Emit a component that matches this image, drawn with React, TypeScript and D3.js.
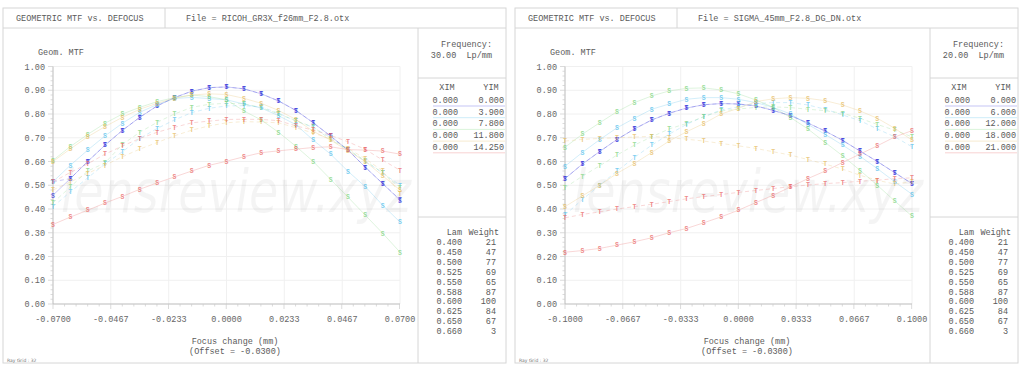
import React from 'react';
import * as d3 from 'd3';

// focus positions (mm)
const ricohFocus = [-0.070, -0.063, -0.056, -0.049, -0.042, -0.035, -0.028, -0.021, -0.014, -0.007, 0.0,
  0.007, 0.014, 0.021, 0.028, 0.035, 0.042, 0.049, 0.056, 0.063, 0.070];
const sigmaFocus = [-0.10, -0.09, -0.08, -0.07, -0.06, -0.05, -0.04, -0.03, -0.02, -0.01, 0.0,
  0.01, 0.02, 0.03, 0.04, 0.05, 0.06, 0.07, 0.08, 0.09, 0.10];

const ricohTicks = [-0.07, -0.0467, -0.0233, 0, 0.0233, 0.0467, 0.07];
const sigmaTicks = [-0.1, -0.0667, -0.0333, 0, 0.0333, 0.0667, 0.1];
const yTicks = [0, 0.1, 0.2, 0.3, 0.4, 0.5, 0.6, 0.7, 0.8, 0.9, 1.0];

// field colours: 0, 1, 2, 3, 4
const fieldColors = ['#3c3cdc', '#5cc2ec', '#84d684', '#e6bd66', '#ea6c6c'];

// RICOH GR3X — S and T per field
const ricohS = [
  [0.458, 0.528, 0.600, 0.669, 0.731, 0.786, 0.834, 0.869, 0.896, 0.911, 0.914, 0.906, 0.885, 0.855, 0.815, 0.763, 0.707, 0.648, 0.576, 0.507, 0.437],
  [0.515, 0.584, 0.648, 0.708, 0.761, 0.807, 0.840, 0.865, 0.870, 0.865, 0.860, 0.842, 0.825, 0.793, 0.755, 0.690, 0.631, 0.559, 0.494, 0.416, 0.345],
  [0.605, 0.663, 0.714, 0.761, 0.800, 0.828, 0.852, 0.869, 0.880, 0.873, 0.860, 0.813, 0.775, 0.723, 0.664, 0.600, 0.525, 0.450, 0.374, 0.298, 0.218],
  [0.600, 0.653, 0.704, 0.747, 0.786, 0.820, 0.845, 0.866, 0.880, 0.885, 0.882, 0.866, 0.845, 0.815, 0.777, 0.727, 0.690, 0.645, 0.600, 0.540, 0.480],
  [0.335, 0.366, 0.395, 0.425, 0.453, 0.483, 0.510, 0.535, 0.560, 0.584, 0.601, 0.620, 0.637, 0.645, 0.652, 0.659, 0.662, 0.650, 0.648, 0.644, 0.631],
];
const ricohT = [
  [0.515, 0.528, 0.600, 0.669, 0.731, 0.786, 0.834, 0.869, 0.896, 0.911, 0.914, 0.906, 0.885, 0.855, 0.815, 0.763, 0.707, 0.648, 0.576, 0.507, 0.440],
  [0.410, 0.472, 0.531, 0.590, 0.641, 0.697, 0.739, 0.775, 0.806, 0.824, 0.834, 0.835, 0.830, 0.803, 0.770, 0.744, 0.700, 0.650, 0.600, 0.552, 0.500],
  [0.426, 0.493, 0.560, 0.594, 0.672, 0.723, 0.765, 0.800, 0.828, 0.841, 0.845, 0.843, 0.827, 0.800, 0.772, 0.745, 0.692, 0.650, 0.604, 0.552, 0.490],
  [0.480, 0.514, 0.550, 0.584, 0.620, 0.652, 0.680, 0.708, 0.732, 0.750, 0.763, 0.768, 0.766, 0.763, 0.742, 0.720, 0.695, 0.655, 0.612, 0.560, 0.465],
  [0.514, 0.554, 0.590, 0.631, 0.665, 0.697, 0.723, 0.744, 0.763, 0.770, 0.777, 0.778, 0.777, 0.772, 0.750, 0.732, 0.710, 0.683, 0.651, 0.606, 0.563],
];

// SIGMA 45mm
const sigmaS = [
  [0.528, 0.589, 0.642, 0.693, 0.737, 0.775, 0.803, 0.825, 0.839, 0.844, 0.842, 0.834, 0.815, 0.793, 0.762, 0.728, 0.689, 0.644, 0.600, 0.553, 0.507],
  [0.580, 0.638, 0.692, 0.742, 0.782, 0.820, 0.842, 0.862, 0.869, 0.869, 0.862, 0.848, 0.828, 0.800, 0.756, 0.714, 0.669, 0.622, 0.570, 0.515, 0.462],
  [0.660, 0.715, 0.763, 0.810, 0.848, 0.876, 0.897, 0.908, 0.910, 0.901, 0.885, 0.859, 0.828, 0.785, 0.737, 0.680, 0.624, 0.563, 0.500, 0.434, 0.370],
  [0.410, 0.455, 0.500, 0.550, 0.592, 0.638, 0.686, 0.725, 0.760, 0.800, 0.824, 0.852, 0.864, 0.869, 0.866, 0.856, 0.838, 0.813, 0.782, 0.740, 0.690],
  [0.218, 0.225, 0.234, 0.248, 0.262, 0.279, 0.300, 0.318, 0.342, 0.367, 0.395, 0.427, 0.458, 0.493, 0.528, 0.560, 0.596, 0.631, 0.666, 0.703, 0.730],
];
const sigmaT = [
  [0.528, 0.589, 0.642, 0.693, 0.737, 0.775, 0.803, 0.825, 0.839, 0.844, 0.842, 0.834, 0.815, 0.793, 0.762, 0.728, 0.689, 0.644, 0.600, 0.553, 0.507],
  [0.375, 0.440, 0.500, 0.560, 0.617, 0.669, 0.715, 0.756, 0.789, 0.817, 0.830, 0.844, 0.848, 0.848, 0.838, 0.820, 0.796, 0.772, 0.737, 0.704, 0.662],
  [0.490, 0.538, 0.582, 0.627, 0.669, 0.704, 0.737, 0.760, 0.789, 0.813, 0.821, 0.828, 0.830, 0.827, 0.820, 0.814, 0.803, 0.782, 0.756, 0.732, 0.704],
  [0.686, 0.693, 0.697, 0.700, 0.703, 0.706, 0.700, 0.694, 0.686, 0.676, 0.666, 0.655, 0.641, 0.627, 0.608, 0.589, 0.568, 0.542, 0.521, 0.505, 0.515],
  [0.363, 0.377, 0.388, 0.400, 0.410, 0.420, 0.431, 0.443, 0.452, 0.461, 0.470, 0.478, 0.486, 0.494, 0.501, 0.507, 0.511, 0.517, 0.521, 0.528, 0.531],
];

const ricohYim = ['0.000', '3.900', '7.800', '11.800', '14.250'];
const sigmaYim = ['0.000', '6.000', '12.000', '18.000', '21.000'];
const lams = ['0.400', '0.450', '0.500', '0.525', '0.550', '0.588', '0.600', '0.625', '0.650', '0.660'];
const weights = ['21', '47', '77', '69', '65', '87', '100', '84', '67', '3'];

const FONT = '"Liberation Mono", "DejaVu Sans Mono", monospace';
const TXT = '#5a5a5a';

interface PanelProps {
  ox: number;
  file: string;
  freq: string;
  focus: number[];
  ticks: number[];
  yim: string[];
  sSeries: number[][];
  tSeries: number[][];
}

const Panel: React.FC<PanelProps> = ({ ox, file, freq, focus, ticks, yim, sSeries, tSeries }) => {
  const x0 = ox + 50, x1 = ox + 397;
  const x = d3.scaleLinear().domain([ticks[0], ticks[ticks.length - 1]]).range([x0, x1]);
  const y = d3.scaleLinear().domain([0, 1]).range([304, 66.5]);
  const line = d3.line<number>().x((_, i) => x(focus[i])).y(d => y(d));

  const step = ticks[1] - ticks[0];
  const xMinor = d3.range(0, 31).map(k => ticks[0] + (step / 5) * k).filter(v => v <= ticks[6] + 1e-9);
  const yMinor = d3.range(0, 51).map(k => k * 0.02);

  const right = ox + 503;
  const col = ox + 415;

  return (
    <g fontFamily={FONT} fontSize={8.5} fill={TXT}>
      <rect x={ox} y={8} width={503} height={355} fill="#fff" stroke="#d6d6d6" />
      <line x1={ox} x2={right} y1={28} y2={28} stroke="#d6d6d6" />
      <line x1={ox + 162} x2={ox + 162} y1={8} y2={28} stroke="#d6d6d6" />
      <line x1={col} x2={col} y1={28} y2={363} stroke="#d6d6d6" />
      <line x1={col} x2={right} y1={78} y2={78} stroke="#d6d6d6" />
      <line x1={col} x2={right} y1={217} y2={217} stroke="#d6d6d6" />
      <text x={ox + 13} y={21}>GEOMETRIC MTF vs. DEFOCUS</text>
      <text x={ox + 183} y={21}>{file}</text>

      {/* grid */}
      {yTicks.slice(1).map(t => (
        <line key={'gy' + t} x1={x0} x2={x1} y1={y(t)} y2={y(t)} stroke="#f0f0f0" />
      ))}
      {ticks.slice(1).map(t => (
        <line key={'gx' + t} x1={x(t)} x2={x(t)} y1={y(1)} y2={y(0)} stroke="#f0f0f0" />
      ))}

      {/* watermark */}
      <text x={ox + 58} y={212} fontFamily='"DejaVu Sans", sans-serif' fontStyle="italic" fontSize={58}
        textLength={350} lengthAdjust="spacingAndGlyphs" fill="#000" fillOpacity={0.045}>lensreview.xyz</text>

      {/* axes */}
      <line x1={x0} x2={x0} y1={y(1)} y2={y(0)} stroke="#bbb" />
      <line x1={x0} x2={x1} y1={y(0)} y2={y(0)} stroke="#bbb" />
      {yMinor.map(v => (
        <line key={'ym' + v} x1={x0 - (Math.round(v * 100) % 10 === 0 ? 5 : 2.5)} x2={x0} y1={y(v)} y2={y(v)} stroke="#ccc" strokeWidth={0.7} />
      ))}
      {xMinor.map((v, k) => (
        <line key={'xm' + k} x1={x(v)} x2={x(v)} y1={y(0)} y2={y(0) + (k % 5 === 0 ? 5 : 2.5)} stroke="#ccc" strokeWidth={0.7} />
      ))}
      {yTicks.map(t => (
        <text key={'yl' + t} x={x0 - 8} y={y(t) + 3} textAnchor="end" fill="#666">{t.toFixed(2)}</text>
      ))}
      {ticks.map(t => (
        <text key={'xl' + t} x={x(t)} y={322} textAnchor="middle" fill="#666">{t.toFixed(4)}</text>
      ))}
      <text x={ox + 35} y={55}>Geom. MTF</text>
      <text x={ox + 232} y={344} textAnchor="middle">Focus change (mm)</text>
      <text x={ox + 232} y={354} textAnchor="middle">(Offset = -0.0300)</text>
      <text x={ox + 4} y={362} fontSize={4.5} fontFamily='"DejaVu Sans", sans-serif' fill="#777">Ray Grid : 32</text>

      {/* series */}
      {sSeries.map((s, f) => (
        <g key={'s' + f}>
          <path d={line(s) || ''} fill="none" stroke={fieldColors[f]} strokeOpacity={0.3} strokeWidth={0.9} />
          <path d={line(tSeries[f]) || ''} fill="none" stroke={fieldColors[f]} strokeOpacity={0.3} strokeWidth={0.9} strokeDasharray="4,3" />
        </g>
      ))}
      {sSeries.map((s, f) => (
        <g key={'m' + f} fill={fieldColors[f]} fillOpacity={0.8} fontSize={6.5} fontWeight="bold" textAnchor="middle">
          {s.map((v, i) => (
            <text key={'ms' + i} x={x(focus[i])} y={y(v) + 2.3}>S</text>
          ))}
          {tSeries[f].map((v, i) => (
            <text key={'mt' + i} x={x(focus[i])} y={y(v) + 2.3}>T</text>
          ))}
        </g>
      ))}

      {/* frequency box */}
      <text x={ox + 489} y={47} textAnchor="end">Frequency:</text>
      <text x={ox + 489} y={58} textAnchor="end" xmlSpace="preserve">{freq + '  Lp/mm'}</text>

      {/* field table */}
      <text x={ox + 444} y={90} textAnchor="middle">XIM</text>
      <text x={ox + 488} y={90} textAnchor="middle">YIM</text>
      {yim.map((v, i) => (
        <g key={'f' + i}>
          <text x={ox + 455} y={103 + i * 11.7} textAnchor="end">0.000</text>
          <text x={ox + 501} y={103 + i * 11.7} textAnchor="end">{v}</text>
          <line x1={ox + 430} x2={ox + 502} y1={106 + i * 11.7} y2={106 + i * 11.7} stroke={fieldColors[i]} strokeOpacity={0.3} />
        </g>
      ))}

      {/* wavelength table */}
      <text x={ox + 459} y={235} textAnchor="end">Lam</text>
      <text x={ox + 496} y={235} textAnchor="end">Weight</text>
      {lams.map((l, i) => (
        <g key={'l' + i}>
          <text x={ox + 459} y={245 + i * 9.9} textAnchor="end">{l}</text>
          <text x={ox + 493} y={245 + i * 9.9} textAnchor="end">{weights[i]}</text>
        </g>
      ))}
    </g>
  );
};

export default function App() {
  return (
    <svg width={1024} height={366} style={{ position: 'absolute', left: 0, top: 0, background: '#fff' }}>
      <rect width={1024} height={366} fill="#fff" />
      <Panel ox={3} file="File = RICOH_GR3X_f26mm_F2.8.otx" freq="30.00" focus={ricohFocus}
        ticks={ricohTicks} yim={ricohYim} sSeries={ricohS} tSeries={ricohT} />
      <Panel ox={515} file="File = SIGMA_45mm_F2.8_DG_DN.otx" freq="20.00" focus={sigmaFocus}
        ticks={sigmaTicks} yim={sigmaYim} sSeries={sigmaS} tSeries={sigmaT} />
    </svg>
  );
}
